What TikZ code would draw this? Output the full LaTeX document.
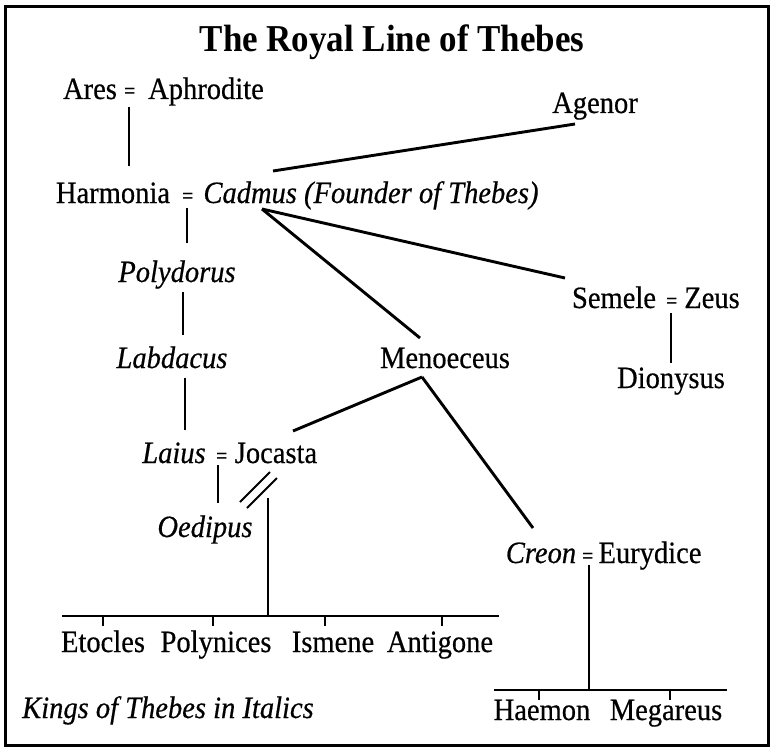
\documentclass[tikz,border=0pt]{standalone}
\usepackage{fontspec}
\setmainfont[FakeStretch=0.92,UprightFeatures={FakeBold=0.5},ItalicFeatures={FakeBold=0.5}]{Liberation Serif}
\begin{document}
\begin{tikzpicture}[x=1pt,y=-1pt,
  person/.style={inner sep=0pt,anchor=base,font=\fontsize{31}{34}\selectfont},
  kingnode/.style={person,font=\fontsize{31}{34}\selectfont\itshape},
  eqsign/.style={inner sep=0pt,anchor=base,font=\fontsize{22}{24}\selectfont\bfseries},
  titlenode/.style={inner sep=0pt,anchor=base,font=\fontsize{38}{42}\selectfont\bfseries},
  link/.style={line width=2.9pt},
  tickline/.style={line width=2.9pt}]
\useasboundingbox (0,0) rectangle (778,754);
\draw[line width=3pt] (5,7) rectangle (768,745);
% title
\node[titlenode] (title) at (392,52) {The Royal Line of Thebes};
% names
\node[person] (ares) at (90,99) {Ares};
\node[eqsign] (eq1) at (130,99) {=};
\node[person] (aphrodite) at (206,99) {Aphrodite};
\node[person] (agenor) at (595,113) {Agenor};
\node[person] (harmonia) at (113,203) {Harmonia};
\node[eqsign] (eq2) at (188,203) {=};
\node[kingnode] (cadmus) at (371,203) {Cadmus (Founder of Thebes)};
\node[kingnode] (polydorus) at (177,282) {Polydorus};
\node[kingnode] (labdacus) at (172,368) {Labdacus};
\node[person] (menoeceus) at (445,368) {Menoeceus};
\node[person] (semele) at (614,308) {Semele};
\node[eqsign] (eq3) at (672,308) {=};
\node[person] (zeus) at (712,308) {Zeus};
\node[person] (dionysus) at (671,388) {Dionysus};
\node[kingnode] (laius) at (174,463) {Laius};
\node[eqsign] (eq4) at (222,463) {=};
\node[person] (jocasta) at (276,463) {Jocasta};
\node[kingnode] (oedipus) at (205,537) {Oedipus};
\node[kingnode] (creon) at (541,563) {Creon};
\node[eqsign] (eq5) at (588,563) {=};
\node[person] (eurydice) at (650,563) {Eurydice};
\node[person] (etocles) at (103,652) {Etocles};
\node[person] (polynices) at (216,652) {Polynices};
\node[person] (ismene) at (333,652) {Ismene};
\node[person] (antigone) at (440,652) {Antigone};
\node[person] (haemon) at (542,720) {Haemon};
\node[person] (megareus) at (666,720) {Megareus};
\node[kingnode,anchor=base west] (legend) at (22,718) {Kings of Thebes in Italics};
% connector end points
\coordinate (aresC) at (129,107);
\coordinate (harmoniaP) at (129,166);
\coordinate (agenorC) at (575,124);
\coordinate (cadmusA) at (273,171);
\coordinate (cadmusC) at (187,208);
\coordinate (polydorusP) at (187,243);
\coordinate (polydorusC) at (183,292);
\coordinate (labdacusP) at (183,335);
\coordinate (labdacusC) at (185,378);
\coordinate (laiusP) at (185,430);
\coordinate (cadmusS) at (262,209);
\coordinate (menoeceusP) at (420,338);
\coordinate (semeleP) at (565,278);
\coordinate (zeusC) at (671,313);
\coordinate (dionysusP) at (671,363);
\coordinate (menoeceusC) at (422,377);
\coordinate (jocastaP) at (293,431);
\coordinate (creonP) at (533,528);
\coordinate (laiusC) at (218,465);
\coordinate (oedipusP) at (218,503);
\coordinate (slashAa) at (240,502);
\coordinate (slashAb) at (270,472);
\coordinate (slashBa) at (247,508);
\coordinate (slashBb) at (277,478);
\coordinate (oedipusC) at (268,498);
\coordinate (barL) at (62,616);
\coordinate (barR) at (499,616);
\coordinate (barM) at (268,616);
\coordinate (creonC) at (589,565);
\coordinate (bar2L) at (494,690);
\coordinate (bar2R) at (727,690);
\coordinate (bar2M) at (589,690);
% connectors
\draw[link] (aresC) -- (harmoniaP);
\draw[link] (agenorC) -- (cadmusA);
\draw[link] (cadmusC) -- (polydorusP);
\draw[link] (polydorusC) -- (labdacusP);
\draw[link] (labdacusC) -- (laiusP);
\draw[link] (cadmusS) -- (menoeceusP);
\draw[link] (cadmusS) -- (semeleP);
\draw[link] (zeusC) -- (dionysusP);
\draw[link] (menoeceusC) -- (jocastaP);
\draw[link] (menoeceusC) -- (creonP);
\draw[link] (laiusC) -- (oedipusP);
\draw[line width=2pt] (slashAa) -- (slashAb);
\draw[line width=2pt] (slashBa) -- (slashBb);
\draw[link] (oedipusC) -- (barM);
\draw[link] (barL) -- (barR);
\foreach \x in {103,213,325,442}
  \draw[tickline] (\x,616) -- (\x,626);
\draw[link] (creonC) -- (bar2M);
\draw[link] (bar2L) -- (bar2R);
\foreach \x in {539,670}
  \draw[tickline] (\x,690) -- (\x,700);
\end{tikzpicture}
\end{document}
